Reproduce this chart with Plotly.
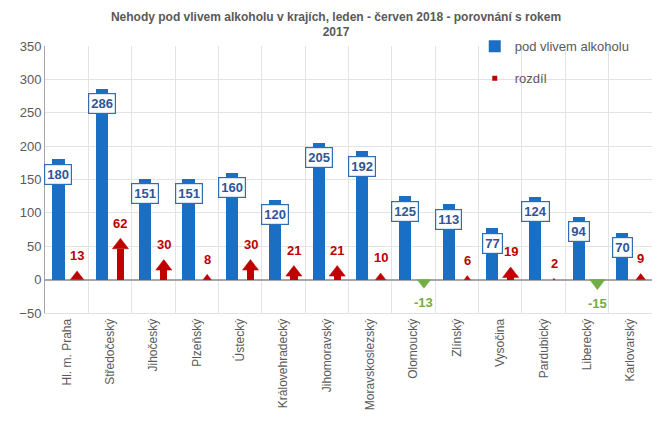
import plotly.graph_objects as go

categories = ["Hl. m. Praha", "Středočeský", "Jihočeský", "Plzeňský", "Ústecký",
              "Královehradecký", "Jihomoravský", "Moravskoslezský", "Olomoucký",
              "Zlínský", "Vysočina", "Pardubický", "Liberecký", "Karlovarský"]
alcohol = [180, 286, 151, 151, 160, 120, 205, 192, 125, 113, 77, 124, 94, 70]
diff = [13, 62, 30, 8, 30, 21, 21, 10, -13, 6, 19, 2, -15, 9]

BLUE = "#1a6fc4"
RED = "#c00000"
GREEN = "#70ad47"
GRAY = "#595959"

Y_MIN, Y_MAX = -50, 350
PLOT_H = 267  # px of plot height
px_per_unit = PLOT_H / (Y_MAX - Y_MIN)

idx = list(range(len(categories)))

# arrow geometry derived from data
head_px = [min(10.5, abs(v) * px_per_unit) for v in diff]
sizes = [h / 0.75 for h in head_px]  # triangle marker height = 0.75*size
shaft = []
tri_y = []
for v, h, s in zip(diff, head_px, sizes):
    sign = 1 if v >= 0 else -1
    shaft.append(sign * max(abs(v) - h / px_per_unit, 0))
    tri_y.append(v - sign * (s / 2) / px_per_unit)
arrow_colors = [RED if v >= 0 else GREEN for v in diff]
symbols = ["triangle-up" if v >= 0 else "triangle-down" for v in diff]

fig = go.Figure()

fig.add_trace(go.Bar(
    x=idx, y=alcohol, offset=-0.33, width=0.28,
    marker=dict(color=BLUE, line=dict(width=0)),
    name="pod vlivem alkoholu", legendgroup="a",
    hoverinfo="y",
))
fig.add_trace(go.Bar(
    x=idx, y=shaft, offset=0.155, width=0.17,
    marker=dict(color=arrow_colors, line=dict(width=0), opacity=1),
    name="rozdíl", showlegend=False, legendgroup="b",
    hoverinfo="skip",
))
fig.add_trace(go.Scatter(
    x=[i + 0.24 for i in idx], y=tri_y, mode="markers",
    marker=dict(symbol=symbols, size=sizes, color=arrow_colors, opacity=1,
                line=dict(width=0.5, color=arrow_colors)),
    name="rozdíl", showlegend=False, legendgroup="b",
    hovertext=[str(v) for v in diff], hoverinfo="text",
))
fig.add_trace(go.Scatter(
    x=[None], y=[None], mode="markers",
    marker=dict(symbol="square", size=5, color=RED),
    name="rozdíl", legendgroup="b",
))

annotations = []
for i, v in enumerate(alcohol):
    annotations.append(dict(
        x=i - 0.19, y=v, xref="x", yref="y", text=f"<b>{v}</b>",
        showarrow=False, yshift=-15,
        font=dict(family="Liberation Sans, Arial", size=13, color="#2f5597"),
        bgcolor="white", bordercolor="#2f6db5", borderwidth=1.2, borderpad=2,
    ))
for i, v in enumerate(diff):
    annotations.append(dict(
        x=i + 0.24, y=v, xref="x", yref="y", text=f"<b>{v}</b>",
        showarrow=False, yshift=15 if v >= 0 else -14,
        font=dict(family="Liberation Sans, Arial", size=13,
                  color=RED if v >= 0 else GREEN),
    ))

fig.update_layout(
    width=660, height=416,
    margin=dict(l=37, r=16, t=38, b=111, autoexpand=False),
    paper_bgcolor="white", plot_bgcolor="white",
    title=dict(
        text="<b>Nehody pod vlivem alkoholu v krajích, leden - červen 2018 - porovnání s rokem<br>2017</b>",
        x=0.497, xanchor="center", y=0.969, yanchor="top",
        font=dict(family="Liberation Sans, Arial", size=12, color=GRAY),
    ),
    barmode="overlay",
    bargap=0,
    showlegend=True,
    legend=dict(
        x=0.708, y=1.055, xanchor="left", yanchor="top",
        font=dict(family="Liberation Sans, Arial", size=13, color=GRAY),
        bgcolor="rgba(0,0,0,0)", tracegroupgap=12, traceorder="grouped",
        itemwidth=30,
    ),
    annotations=annotations,
    font=dict(family="Liberation Sans, Arial", color=GRAY),
)

fig.update_xaxes(
    range=[-0.5, len(categories) - 0.5],
    tickmode="array", tickvals=idx, ticktext=categories,
    tickangle=-90, showgrid=False, ticks="", automargin=False,
    tickfont=dict(family="Liberation Sans, Arial", size=12, color=GRAY),
    minor=dict(tickvals=[i + 0.5 for i in idx[:-1]], showgrid=True,
               gridcolor="#e3e3e3", gridwidth=1, ticks=""),
    showline=True, linecolor="#e3e3e3", mirror=False, zeroline=False,
)
fig.update_yaxes(
    range=[Y_MIN, Y_MAX], dtick=50, tick0=0, automargin=False,
    showgrid=True, gridcolor="#e3e3e3", gridwidth=1,
    zeroline=True, zerolinecolor="#a6a6a6", zerolinewidth=1.5,
    showline=True, linecolor="#a6a6a6", linewidth=1,
    tickfont=dict(family="Liberation Sans, Arial", size=13, color=GRAY),
    ticks="",
)

fig.write_html("out.html")
